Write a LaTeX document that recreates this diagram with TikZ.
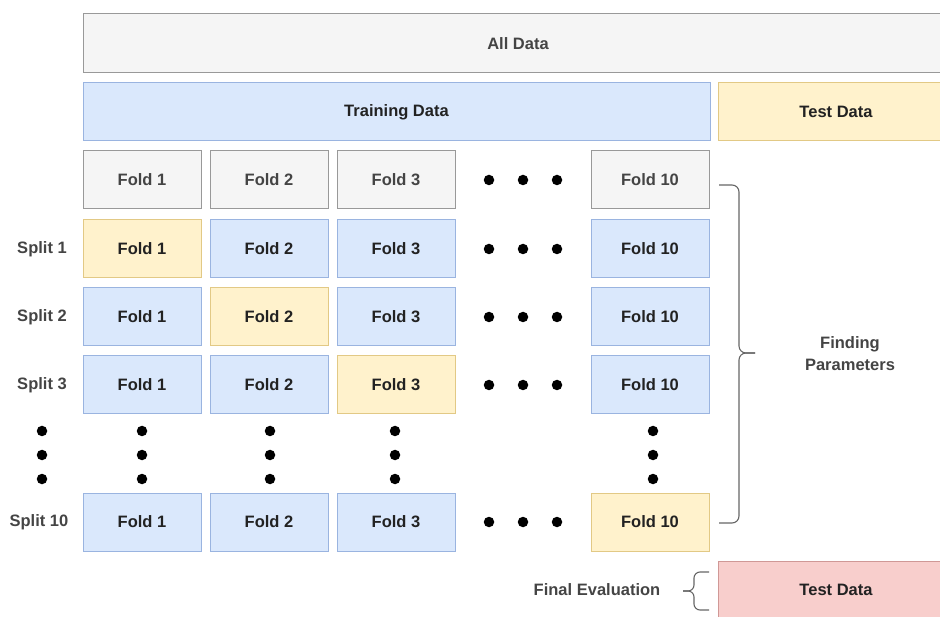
\documentclass[tikz,border=0pt]{standalone}
\usepackage{fontspec}
\setmainfont{Liberation Sans}
\definecolor{grayF}{HTML}{F5F5F5}
\definecolor{grayD}{HTML}{999999}
\definecolor{grayT}{HTML}{444444}
\definecolor{blueF}{HTML}{DAE8FC}
\definecolor{blueD}{HTML}{9AB4E0}
\definecolor{yelF}{HTML}{FFF2CC}
\definecolor{yelD}{HTML}{E2C985}
\definecolor{redF}{HTML}{F8CECC}
\definecolor{redD}{HTML}{D09896}
\definecolor{txt}{HTML}{222222}
\definecolor{brc}{HTML}{666666}
\begin{document}
\begin{tikzpicture}[x=1pt,y=-1pt,
  box/.style={draw, line width=1pt, minimum width=118pt, minimum height=58pt, inner sep=0pt, text=txt, font=\bfseries\fontsize{16.5}{19}\selectfont},
  graybox/.style={box, fill=grayF, draw=grayD, text=grayT},
  bluebox/.style={box, fill=blueF, draw=blueD},
  yellowbox/.style={box, fill=yelF, draw=yelD},
  redbox/.style={box, fill=redF, draw=redD},
  dotc/.style={circle, fill=black, inner sep=0pt, minimum size=10.5pt},
  lbl/.style={text=grayT, align=center, font=\bfseries\fontsize{16.5}{22}\selectfont},
  bracec/.style={draw=brc, line width=1.1pt, rounded corners=7pt}]
\useasboundingbox (0,0) rectangle (940,617);
\clip (0,0) rectangle (940,617);
% top bars
\node[graybox, minimum width=870pt, minimum height=59pt] (all) at (518,43.5) {All Data};
\node[bluebox, minimum width=627pt] (train) at (396.5,112) {Training Data};
\node[yellowbox, minimum width=236pt] (test) at (836,112) {Test Data};
% fold header row
\node[graybox] (h1) at (142,180) {Fold 1};
\node[graybox] (h2) at (269,180) {Fold 2};
\node[graybox] (h3) at (396,180) {Fold 3};
\node[graybox] (h10) at (650,180) {Fold 10};
% split 1
\node[yellowbox] (a1) at (142,249) {Fold 1};
\node[bluebox] (a2) at (269,249) {Fold 2};
\node[bluebox] (a3) at (396,249) {Fold 3};
\node[bluebox] (a10) at (650,249) {Fold 10};
% split 2
\node[bluebox] (b1) at (142,317) {Fold 1};
\node[yellowbox] (b2) at (269,317) {Fold 2};
\node[bluebox] (b3) at (396,317) {Fold 3};
\node[bluebox] (b10) at (650,317) {Fold 10};
% split 3
\node[bluebox] (c1) at (142,385) {Fold 1};
\node[bluebox] (c2) at (269,385) {Fold 2};
\node[yellowbox] (c3) at (396,385) {Fold 3};
\node[bluebox] (c10) at (650,385) {Fold 10};
% split 10
\node[bluebox] (d1) at (142,522) {Fold 1};
\node[bluebox] (d2) at (269,522) {Fold 2};
\node[bluebox] (d3) at (396,522) {Fold 3};
\node[yellowbox] (d10) at (650,522) {Fold 10};
% split labels
\node[lbl] (s1) at (42,249) {Split 1};
\node[lbl] (s2) at (42,317) {Split 2};
\node[lbl] (s3) at (42,385) {Split 3};
\node[lbl] (s10) at (39,522) {Split 10};
% horizontal dots
\foreach \r/\y in {h/180,a/249,b/317,c/385,d/522}{
  \node[dotc] (\r dA) at (489,\y) {};
  \node[dotc] (\r dB) at (523,\y) {};
  \node[dotc] (\r dC) at (557,\y) {};
}
% vertical dots
\foreach \c/\x in {s/42,k1/142,k2/270,k3/395,k10/653}{
  \node[dotc] (\c vA) at (\x,431) {};
  \node[dotc] (\c vB) at (\x,455) {};
  \node[dotc] (\c vC) at (\x,479) {};
}
% brace finding parameters
\coordinate (bt) at (719,185);
\coordinate (bb) at (719,523);
\coordinate (bm) at (755,353);
\path[bracec] (bt) -- (739,185) -- (739,353) -- (bm);
\path[bracec] (bb) -- (739,523) -- (739,353) -- (bm);
\node[lbl] (fp) at (850,354) {Finding\\Parameters};
% final evaluation
\node[redbox, minimum width=236pt] (test2) at (836,590) {Test Data};
\node[lbl] (fe) at (597,590) {Final Evaluation};
\coordinate (lt) at (709,572);
\coordinate (lb) at (709,610);
\coordinate (lm) at (683,591);
\path[bracec, rounded corners=6pt] (lt) -- (694,572) -- (694,591) -- (lm);
\path[bracec, rounded corners=6pt] (lb) -- (694,610) -- (694,591) -- (lm);
\end{tikzpicture}
\end{document}
